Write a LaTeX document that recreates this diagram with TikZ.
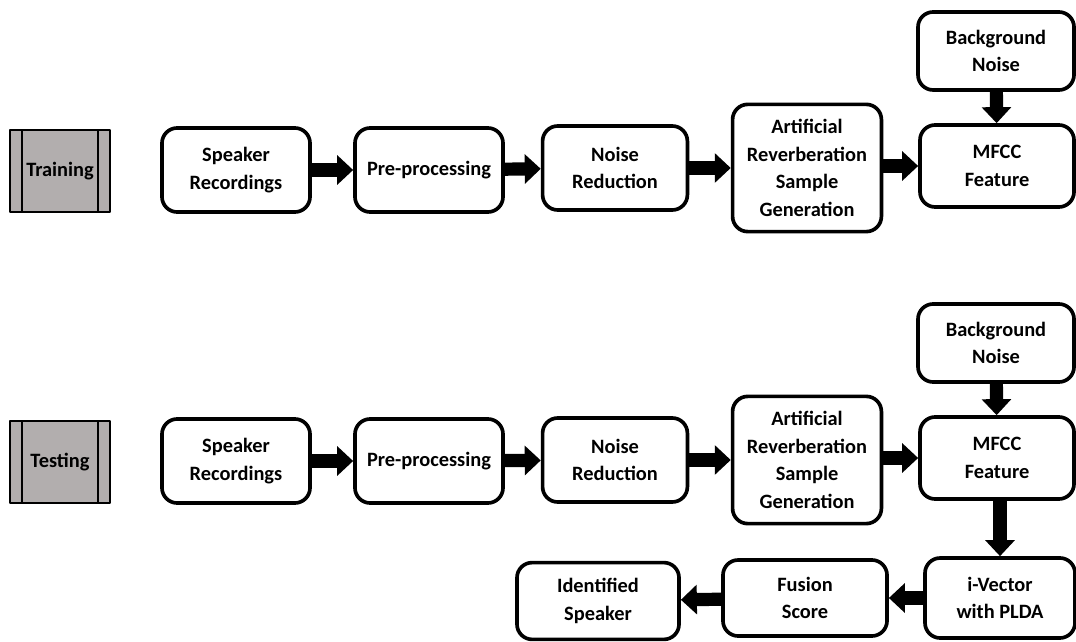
\documentclass[tikz,border=0pt]{standalone}
\usepackage{fontspec}
\setmainfont{Carlito}
\usetikzlibrary{arrows.meta}
\definecolor{labgray}{RGB}{178,174,174}
\begin{document}
\begin{tikzpicture}[x=0.025cm,y=-0.025cm,font=\fontsize{14.5}{19.5}\selectfont\bfseries,line join=round,
	box/.style={draw,line width=2.6pt,rounded corners=0.38cm,align=center,inner sep=2pt,minimum width=3.7cm,minimum height=2.1cm},
	stage/.style={draw,line width=1.4pt,fill=labgray,minimum width=2.5cm,minimum height=2.05cm},
	blockarr/.style={line width=0.33cm,-{Triangle[length=0.4cm,width=0.72cm]}}]
	\useasboundingbox (0,0) rectangle (1076,642);
	% training row
	\node[stage] (lt1) at (60,171) {Training};
	\node[box] (sr1) at (236,170) {Speaker\\Recordings};
	\node[box] (pp1) at (429,170) {Pre-processing};
	\node[box,minimum width=3.62cm] (nr1) at (615,168) {Noise\\Reduction};
	\node[box,minimum width=3.72cm,minimum height=3.18cm] (ar1) at (807,168) {Artificial\\Reverberation\\Sample\\Generation};
	\node[box,minimum width=3.85cm,minimum height=2.05cm] (mf1) at (997,166) {MFCC\\Feature};
	\node[box,minimum width=3.9cm,minimum height=1.95cm] (bg1) at (996,51) {Background\\Noise};
	% testing row
	\node[stage] (lt2) at (60,462) {Testing};
	\node[box] (sr2) at (236,461) {Speaker\\Recordings};
	\node[box] (pp2) at (429,461) {Pre-processing};
	\node[box,minimum width=3.62cm] (nr2) at (615,460) {Noise\\Reduction};
	\node[box,minimum width=3.72cm,minimum height=3.18cm] (ar2) at (807,460) {Artificial\\Reverberation\\Sample\\Generation};
	\node[box,minimum width=3.85cm,minimum height=2.05cm] (mf2) at (997,458) {MFCC\\Feature};
	\node[box,minimum width=3.9cm,minimum height=1.95cm] (bg2) at (996,343) {Background\\Noise};
	\node[box,minimum width=3.75cm,minimum height=2cm] (iv) at (1000,598) {i-Vector\\with PLDA};
	\node[box,minimum width=4.1cm,minimum height=1.9cm] (fs) at (805,598) {Fusion\\Score};
	\node[box,minimum width=4.05cm,minimum height=1.92cm] (is) at (598,601) {Identified\\Speaker};
	% side bars of the stage labels
	\foreach \n in {lt1,lt2}{
		\draw[line width=1.4pt] ([xshift=0.33cm]\n.north west)--([xshift=0.33cm]\n.south west)
			([xshift=-0.33cm]\n.north east)--([xshift=-0.33cm]\n.south east);
	}
	% arrows
	\draw[blockarr] (sr1)--(pp1);
	\draw[blockarr] (pp1)--(nr1);
	\draw[blockarr] (nr1)--(ar1);
	\draw[blockarr] (ar1.east|-mf1.west)--(mf1.west);
	\draw[blockarr] (bg1)--(mf1);
	\draw[blockarr] (sr2)--(pp2);
	\draw[blockarr] (pp2)--(nr2);
	\draw[blockarr] (nr2)--(ar2);
	\draw[blockarr] (ar2.east|-mf2.west)--(mf2.west);
	\draw[blockarr] (bg2)--(mf2);
	\draw[blockarr] (mf2.south-|iv.north)--(iv.north);
	\draw[blockarr] (iv)--(fs);
	\draw[blockarr] (fs)--(is);
\end{tikzpicture}
\end{document}
